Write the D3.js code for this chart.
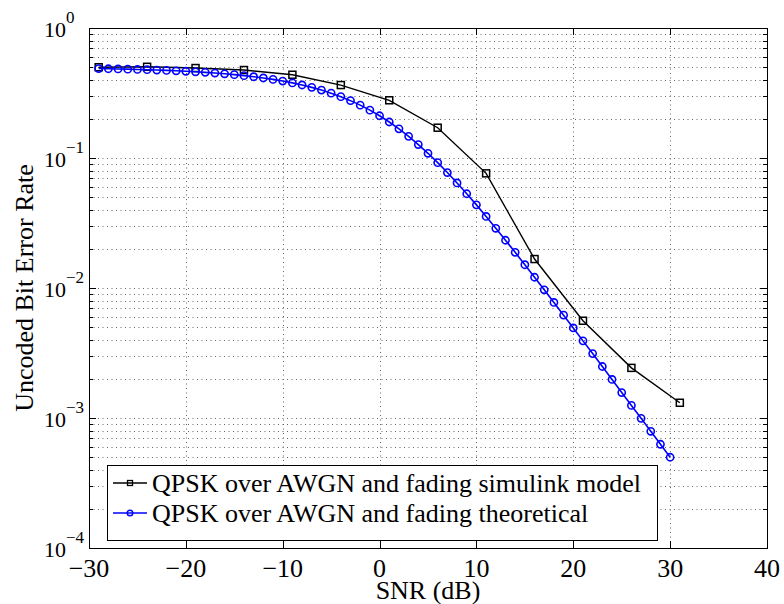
<!DOCTYPE html>
<html><head><meta charset="utf-8">
<script src="https://cdn.jsdelivr.net/npm/d3@7"></script>
<style>body{margin:0;background:#fff}svg{display:block}</style>
</head><body>
<script>
// ---- data ----
const simSNR = [-29,-24,-19,-14,-9,-4,1,6,11,16,21,26,31];
const simBER = [0.499,0.503,0.492,0.475,0.437,0.364,0.278,0.171,0.0762,0.0167,0.0056,0.00243,0.00131];
const theoSNR = [-29,-28,-27,-26,-25,-24,-23,-22,-21,-20,-19,-18,-17,-16,-15,-14,-13,-12,-11,-10,
  -9,-8,-7,-6,-5,-4,-3,-2,-1,0,1,2,3,4,5,6,7,8,9,10,11,12,13,14,15,16,17,18,19,20,
  21,22,23,24,25,26,27,28,29,30];
const theoBER = [0.4875,0.4859,0.4842,0.4823,0.4801,0.4777,0.4750,0.4720,0.4686,0.4647,
  0.4605,0.4557,0.4503,0.4443,0.4376,0.4301,0.4218,0.4126,0.4023,0.3909,
  0.3783,0.3645,0.3494,0.3330,0.3153,0.2963,0.2762,0.2551,0.2334,0.2113,
  0.1892,0.1676,0.1467,0.1269,0.1087,0.0921,0.0773,0.0643,0.0531,0.0436,
  0.0355,0.0288,0.0233,0.0188,0.0151,0.0121,0.00969,0.00774,0.00618,0.00493,
  0.00392,0.00313,0.00249,0.00198,0.00157,0.00125,0.000994,0.000790,0.000628,0.000499];
const xTicks = [-30,-20,-10,0,10,20,30,40];
const yTickExps = [0,-1,-2,-3,-4];
const seriesNames = ["QPSK over AWGN and fading simulink model","QPSK over AWGN and fading theoretical"];
const xLabel = "SNR (dB)";
const yLabel = "Uncoded Bit Error Rate";

// ---- layout ----
const W = 784, H = 604;
const L = 89, R = 767, T = 28, B = 548;
const font = "'Liberation Serif','Times New Roman',Times,serif";

const svg = d3.select("body").append("svg").attr("width", W).attr("height", H)
  .style("font-family", font);
svg.append("rect").attr("width", W).attr("height", H).attr("fill", "#fff");

const x = d3.scaleLinear().domain([-30, 40]).range([L, R]);
const y = d3.scaleLog().domain([1e-4, 1]).range([B, T]);

// minor y values
const yMinor = [];
for (let e = -4; e < 0; e++) for (let m = 2; m <= 9; m++) yMinor.push(m * Math.pow(10, e));
const yMajor = yTickExps.map(e => Math.pow(10, e));

// grid
const grid = svg.append("g").attr("stroke", "#666").attr("stroke-width", 1)
  .attr("stroke-dasharray", "1,3.5").attr("fill", "none");
grid.selectAll("line.gx").data(xTicks.slice(1, -1)).join("line")
  .attr("x1", d => Math.round(x(d)) + 0.5).attr("x2", d => Math.round(x(d)) + 0.5)
  .attr("y1", T).attr("y2", B);
grid.selectAll("line.gy").data(yMajor.slice(1, -1).concat(yMinor)).join("line")
  .attr("x1", L).attr("x2", R)
  .attr("y1", d => Math.round(y(d)) + 0.5).attr("y2", d => Math.round(y(d)) + 0.5);

// axes (ticks inward)
const ax = svg.append("g").attr("stroke", "#000").attr("stroke-width", 1);
function tickLines(sel, data, fn) { sel.selectAll(null).data(data).join("line").each(fn); }
const maj = 7, mnr = 4;
tickLines(ax, xTicks, function(d){ const p = Math.round(x(d)) + 0.5;
  d3.select(this).attr("x1", p).attr("x2", p).attr("y1", B).attr("y2", B - maj); });
tickLines(ax, xTicks, function(d){ const p = Math.round(x(d)) + 0.5;
  d3.select(this).attr("x1", p).attr("x2", p).attr("y1", T).attr("y2", T + maj); });
tickLines(ax, yMajor, function(d){ const p = Math.round(y(d)) + 0.5;
  d3.select(this).attr("x1", L).attr("x2", L + maj).attr("y1", p).attr("y2", p); });
tickLines(ax, yMajor, function(d){ const p = Math.round(y(d)) + 0.5;
  d3.select(this).attr("x1", R).attr("x2", R - maj).attr("y1", p).attr("y2", p); });
tickLines(ax, yMinor, function(d){ const p = Math.round(y(d)) + 0.5;
  d3.select(this).attr("x1", L).attr("x2", L + mnr).attr("y1", p).attr("y2", p); });
tickLines(ax, yMinor, function(d){ const p = Math.round(y(d)) + 0.5;
  d3.select(this).attr("x1", R).attr("x2", R - mnr).attr("y1", p).attr("y2", p); });
svg.append("rect").attr("x", L + 0.5).attr("y", T + 0.5).attr("width", R - L).attr("height", B - T)
  .attr("fill", "none").attr("stroke", "#000").attr("stroke-width", 1);

// x tick labels
svg.append("g").selectAll("text").data(xTicks).join("text")
  .attr("x", d => x(d)).attr("y", 577).attr("text-anchor", "middle")
  .attr("font-size", 26).attr("fill", "#000")
  .text(d => d < 0 ? "\u2212" + Math.abs(d) : String(d));

// y tick labels 10^e
const yl = svg.append("g").attr("fill", "#000");
yl.selectAll("text.b").data(yTickExps).join("text")
  .attr("x", 66).attr("y", d => y(Math.pow(10, d)) + 9).attr("text-anchor", "end")
  .attr("font-size", 22).text("10");
yl.selectAll("text.e").data(yTickExps).join("text")
  .attr("x", 66).attr("y", d => y(Math.pow(10, d)) - 5).attr("text-anchor", "start")
  .attr("font-size", 17).text(d => d < 0 ? "\u2212" + Math.abs(d) : String(d));

// axis titles
svg.append("text").attr("x", (L + R) / 2).attr("y", 599).attr("text-anchor", "middle")
  .attr("font-size", 26).text(xLabel);
svg.append("text").attr("transform", `translate(33,${(T + B) / 2}) rotate(-90)`)
  .attr("text-anchor", "middle").attr("font-size", 26).text(yLabel);

// series
const line = d3.line().x(d => x(d[0])).y(d => y(d[1]));
const simPts = simSNR.map((s, i) => [s, simBER[i]]);
const theoPts = theoSNR.map((s, i) => [s, theoBER[i]]);
const plot = svg.append("g");
plot.append("path").datum(simPts).attr("d", line).attr("fill", "none")
  .attr("stroke", "#000").attr("stroke-width", 1.4);
plot.selectAll("rect.m").data(simPts).join("rect")
  .attr("x", d => x(d[0]) - 3.5).attr("y", d => y(d[1]) - 3.5).attr("width", 7).attr("height", 7)
  .attr("fill", "none").attr("stroke", "#000").attr("stroke-width", 1.5);
plot.append("path").datum(theoPts).attr("d", line).attr("fill", "none")
  .attr("stroke", "#0000ff").attr("stroke-width", 1.6);
plot.selectAll("circle.m").data(theoPts).join("circle")
  .attr("cx", d => x(d[0])).attr("cy", d => y(d[1])).attr("r", 3.6)
  .attr("fill", "none").attr("stroke", "#0000ff").attr("stroke-width", 1.6);

// legend
const lg = svg.append("g");
lg.append("rect").attr("x", 107.5).attr("y", 465.5).attr("width", 550).attr("height", 75)
  .attr("fill", "#fff").attr("stroke", "#000").attr("stroke-width", 1);
const rows = [483, 513];
const colors = ["#000", "#0000ff"];
seriesNames.forEach((name, i) => {
  const cy = rows[i];
  lg.append("line").attr("x1", 113).attr("x2", 147).attr("y1", cy).attr("y2", cy)
    .attr("stroke", colors[i]).attr("stroke-width", 1.4);
  if (i === 0) lg.append("rect").attr("x", 127.5).attr("y", cy - 2.5).attr("width", 5).attr("height", 5)
    .attr("fill", "none").attr("stroke", "#000").attr("stroke-width", 1.3);
  else lg.append("circle").attr("cx", 130).attr("cy", cy).attr("r", 2.8)
    .attr("fill", "none").attr("stroke", "#0000ff").attr("stroke-width", 1.4);
  lg.append("text").attr("x", 152).attr("y", cy + 9).attr("font-size", 26).attr("fill", "#000").text(name);
});
</script>
</body></html>
